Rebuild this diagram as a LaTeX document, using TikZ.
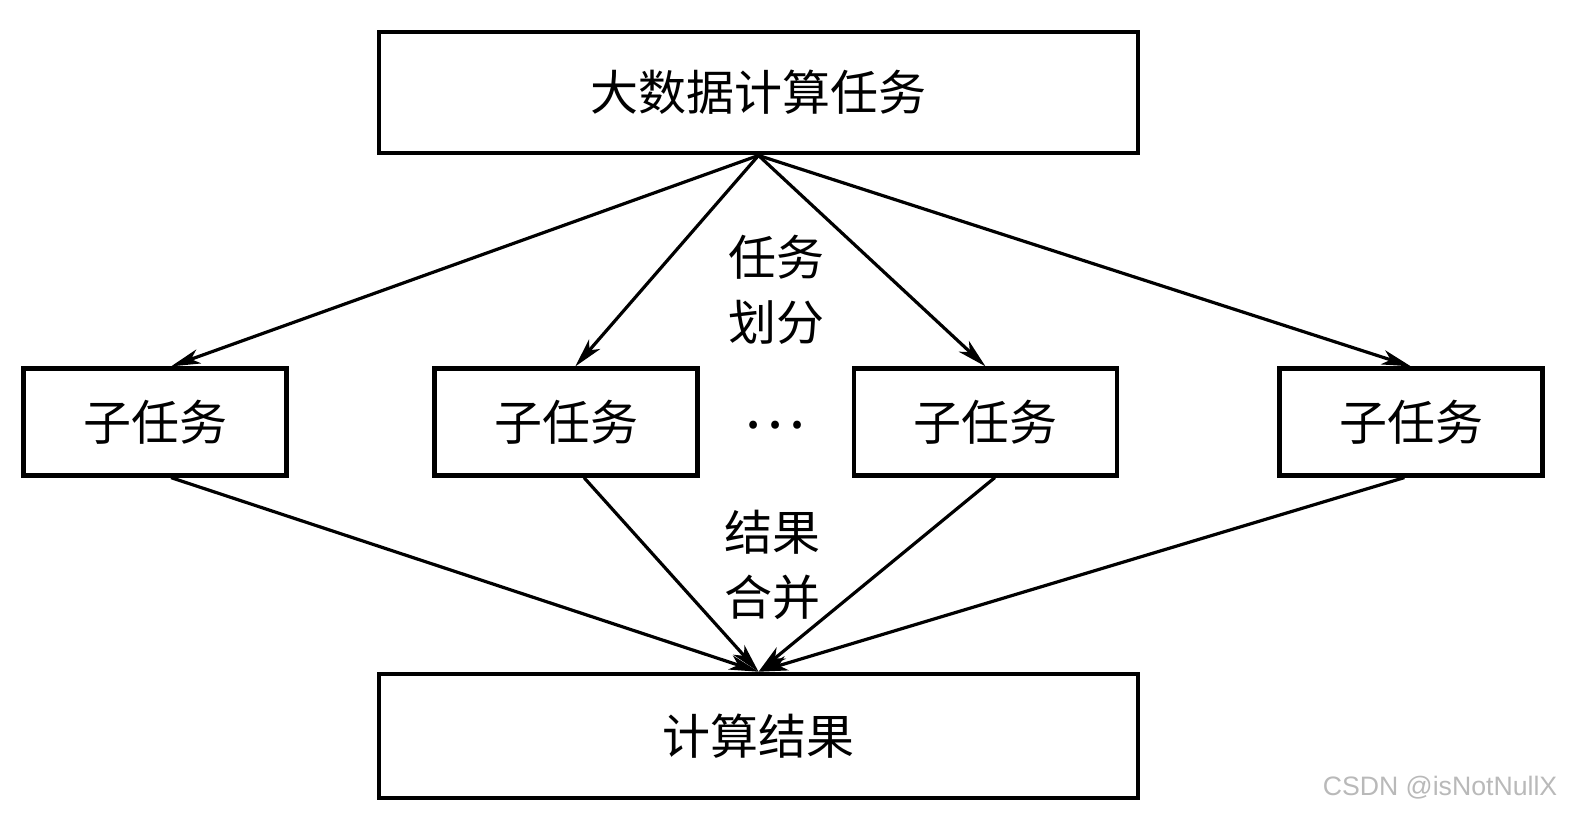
\documentclass[tikz,border=0pt]{standalone}
\usepackage{fontspec}
\usepackage{tikz}
\usetikzlibrary{arrows.meta}
\setsansfont{Liberation Sans}
\newfontfamily\cjk{Noto Sans CJK SC}

\begin{document}
\begin{tikzpicture}[x=0.75pt,y=0.75pt,yscale=-1,xscale=1,
  box/.style={draw, line width=3.4pt, inner sep=0pt, font=\cjk\fontsize{36}{44}\selectfont},
  bigbox/.style={box, minimum width=569pt, minimum height=91pt},
  subbox/.style={box, minimum width=197pt, minimum height=80pt},
  flow/.style={-{Stealth[length=22pt,width=11pt,inset=6pt]}, line width=2.4pt},
  lbl/.style={align=center, inner sep=0pt, font=\cjk\fontsize{36}{49}\selectfont}]
\path[use as bounding box] (0,0) rectangle (1573,815);

% Boxes
\node[bigbox] (job) at (758.5,92.5) {大数据计算任务};
\node[subbox] (sub1) at (155,422) {子任务};
\node[subbox] (sub2) at (566,422) {子任务};
\node[subbox] (sub3) at (985.5,422) {子任务};
\node[subbox] (sub4) at (1411,422) {子任务};
\node[bigbox, minimum height=93pt] (res) at (758.5,736) {计算结果};

% Text Node
\node[lbl] (split) at (776,290) {任务\\划分};
\node[inner sep=0pt, font=\cjk\fontsize{44}{50}\selectfont] (dots) at (775,425) {⋯};
\node[lbl] (merge) at (772,565) {结果\\合并};

% task split
\draw[flow] (job.south) -- ([xshift=12pt]sub1.north);
\draw[flow] (job.south) -- ([xshift=7pt]sub2.north);
\draw[flow] (job.south) -- (sub3.north);
\draw[flow] (job.south) -- (sub4.north);

% result merge
\draw[flow] ([xshift=12pt]sub1.south) -- (res.north);
\draw[flow] ([xshift=13.5pt]sub2.south) -- (res.north);
\draw[flow] ([xshift=7pt]sub3.south) -- (res.north);
\draw[flow] ([xshift=-5pt]sub4.south) -- (res.north);

% watermark
\node[font=\sffamily\fontsize{20}{24}\selectfont, text=gray!55] (mark) at (1440,788) {CSDN @isNotNullX};

\end{tikzpicture}
\end{document}
